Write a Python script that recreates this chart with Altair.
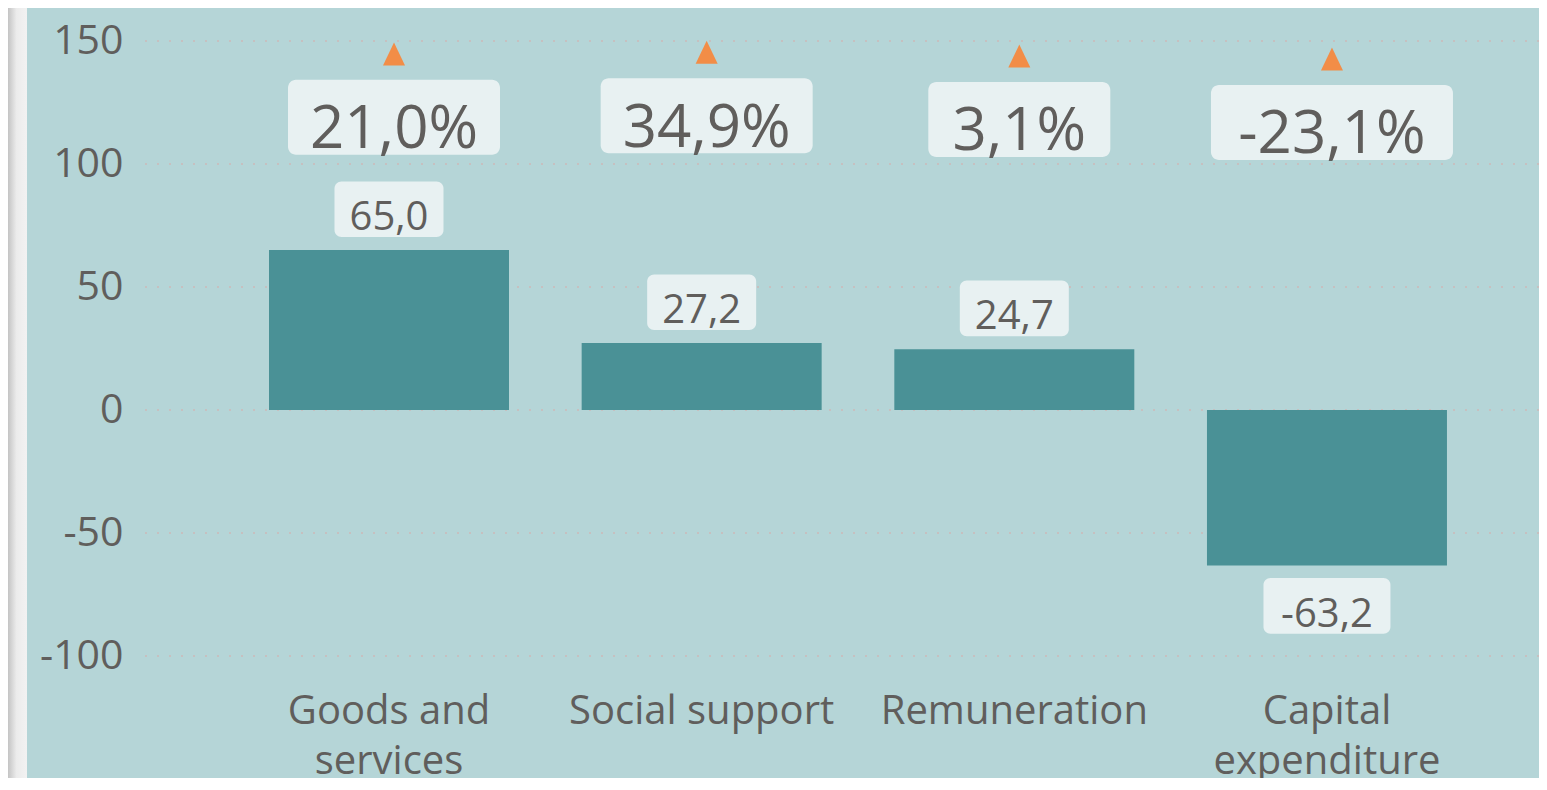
import altair as alt
import pandas as pd

# ---------------- data ----------------
categories = ["Goods and services", "Social support", "Remuneration", "Capital expenditure"]
values = [65.0, 27.2, 24.7, -63.2]
pct_change = [21.0, 34.9, 3.1, -23.1]
y_ticks = [-100, -50, 0, 50, 100, 150]

df = pd.DataFrame({"category": categories, "value": values, "pct": pct_change})
ticks_df = pd.DataFrame({"tick": y_ticks})

# ---------------- style ----------------
FONT = "Open Sans"
TEXT = "#605e5c"
BG = "#b5d5d7"
BAR = "#4a9196"
BOX = "#e8f1f2"
ORANGE = "#f28d47"
GRID = "#c6c0c0"

W, H = 1394, 615

label_expr = (
    "datum.label == 'Goods and services' ? ['Goods and', 'services'] : "
    "datum.label == 'Capital expenditure' ? ['Capital', 'expenditure'] : datum.label"
)

x_enc = alt.X(
    "category:N",
    sort=categories,
    scale=alt.Scale(domain=categories, paddingInner=0.2324, paddingOuter=0.3455, align=0.574),
    title=None,
    axis=alt.Axis(
        labelExpr=label_expr, labelAngle=0, labelFont=FONT, labelFontSize=40,
        labelColor=TEXT, labelLineHeight=50, labelBaseline="alphabetic",
        labelPadding=67, domain=False, ticks=False, grid=False,
        labelOverlap=False, labelLimit=500, labelBound=False,
    ),
)

y_scale = alt.Scale(domain=[-100, 150], nice=False, zero=False)
y_axis = alt.Axis(
    values=y_ticks, grid=False,
    labelExpr="(datum.value < 0 ? '-' : '') + abs(datum.value)",
    domain=False, ticks=False, labelFont=FONT, labelFontSize=41, labelColor=TEXT,
    labelPadding=22, title=None,
)
y_main = alt.Y("value:Q", scale=y_scale, axis=y_axis)

num_fmt = "(datum.{f} < 0 ? '-' : '') + replace(format(abs(datum.{f}), '.1f'), '.', ',')"

base = alt.Chart(df).transform_calculate(
    vlabel=num_fmt.format(f="value"),
    plabel=num_fmt.format(f="pct") + " + '%'",
).transform_calculate(
    vw="37 + 18 * length(datum.vlabel)",
    pw="62 + 30 * length(datum.plabel)",
)

# dotted gridlines
grid = alt.Chart(ticks_df).mark_rule(
    color=GRID, strokeDash=[2, 10], strokeWidth=2, opacity=1
).encode(
    y=alt.Y("tick:Q", scale=y_scale, axis=y_axis),
    x=alt.value(0),
    x2=alt.value(W),
)

bars = base.mark_bar(color=BAR).encode(x=x_enc, y=y_main)

pos = base.transform_filter("datum.value >= 0")
neg = base.transform_filter("datum.value < 0")

y2box = alt.Y2("value:Q")

vbox_pos = pos.mark_bar(color=BOX, cornerRadius=7, yOffset=-68.7, y2Offset=-13).encode(
    x=x_enc, y=y_main, y2=y2box, size=alt.Size("vw:Q", scale=None, legend=None)
)
vbox_neg = neg.mark_bar(color=BOX, cornerRadius=7, yOffset=12.5, y2Offset=68.2).encode(
    x=x_enc, y=y_main, y2=y2box, size=alt.Size("vw:Q", scale=None, legend=None)
)
vtext_pos = pos.mark_text(font=FONT, fontSize=40, color=TEXT, baseline="alphabetic", dy=-20.5).encode(
    x=x_enc, y=y_main, text="vlabel:N"
)
vtext_neg = neg.mark_text(font=FONT, fontSize=40, color=TEXT, baseline="alphabetic", dy=61.5).encode(
    x=x_enc, y=y_main, text="vlabel:N"
)

main = alt.layer(grid, bars, vbox_pos, vbox_neg, vtext_pos, vtext_neg)

# percent change annotations on a hidden secondary scale
p_scale = alt.Scale(domain=[-4643, 682], nice=False, zero=False)
yp = alt.Y("pct:Q", scale=p_scale, axis=None)

pbox = base.mark_bar(color=BOX, cornerRadius=8, yOffset=-37.5, y2Offset=37.5, xOffset=5).encode(
    x=x_enc, y=yp, y2=alt.Y2("pct:Q"), size=alt.Size("pw:Q", scale=None, legend=None)
)
ptext = base.mark_text(font=FONT, fontSize=60, color=TEXT, baseline="alphabetic", dy=31, dx=5).encode(
    x=x_enc, y=yp, text="plabel:N"
)
tri = base.mark_point(
    shape="M0,-1L0.957,1L-0.957,1Z", filled=True, opacity=1, size=529,
    color=ORANGE, yOffset=-63.4, xOffset=5, strokeWidth=0,
).encode(x=x_enc, y=yp)

pct_layer = alt.layer(pbox, ptext, tri)

# grey strip at the left edge
strip = alt.Chart(pd.DataFrame({"k": [0]})).mark_rect(
    color=alt.LinearGradient(
        gradient="linear",
        stops=[
            alt.GradientStop(color="#c4c4c4", offset=0),
            alt.GradientStop(color="#ececec", offset=0.45),
            alt.GradientStop(color="#f2f2f2", offset=1),
        ],
        x1=0, x2=1, y1=0, y2=0,
    )
).encode(x=alt.value(-137), x2=alt.value(-118), y=alt.value(-40), y2=alt.value(H + 140))

chart = (
    alt.layer(strip, main, pct_layer)
    .resolve_scale(y="independent")
    .properties(
        width=W, height=H,
        autosize=alt.AutoSizeParams(type="none"),
        padding={"left": 137, "top": 33, "right": 0, "bottom": 122},
    )
    .configure(background=BG)
    .configure_view(stroke=None)
)

chart.save("out.html", embed_options={"renderer": "svg", "actions": False})
